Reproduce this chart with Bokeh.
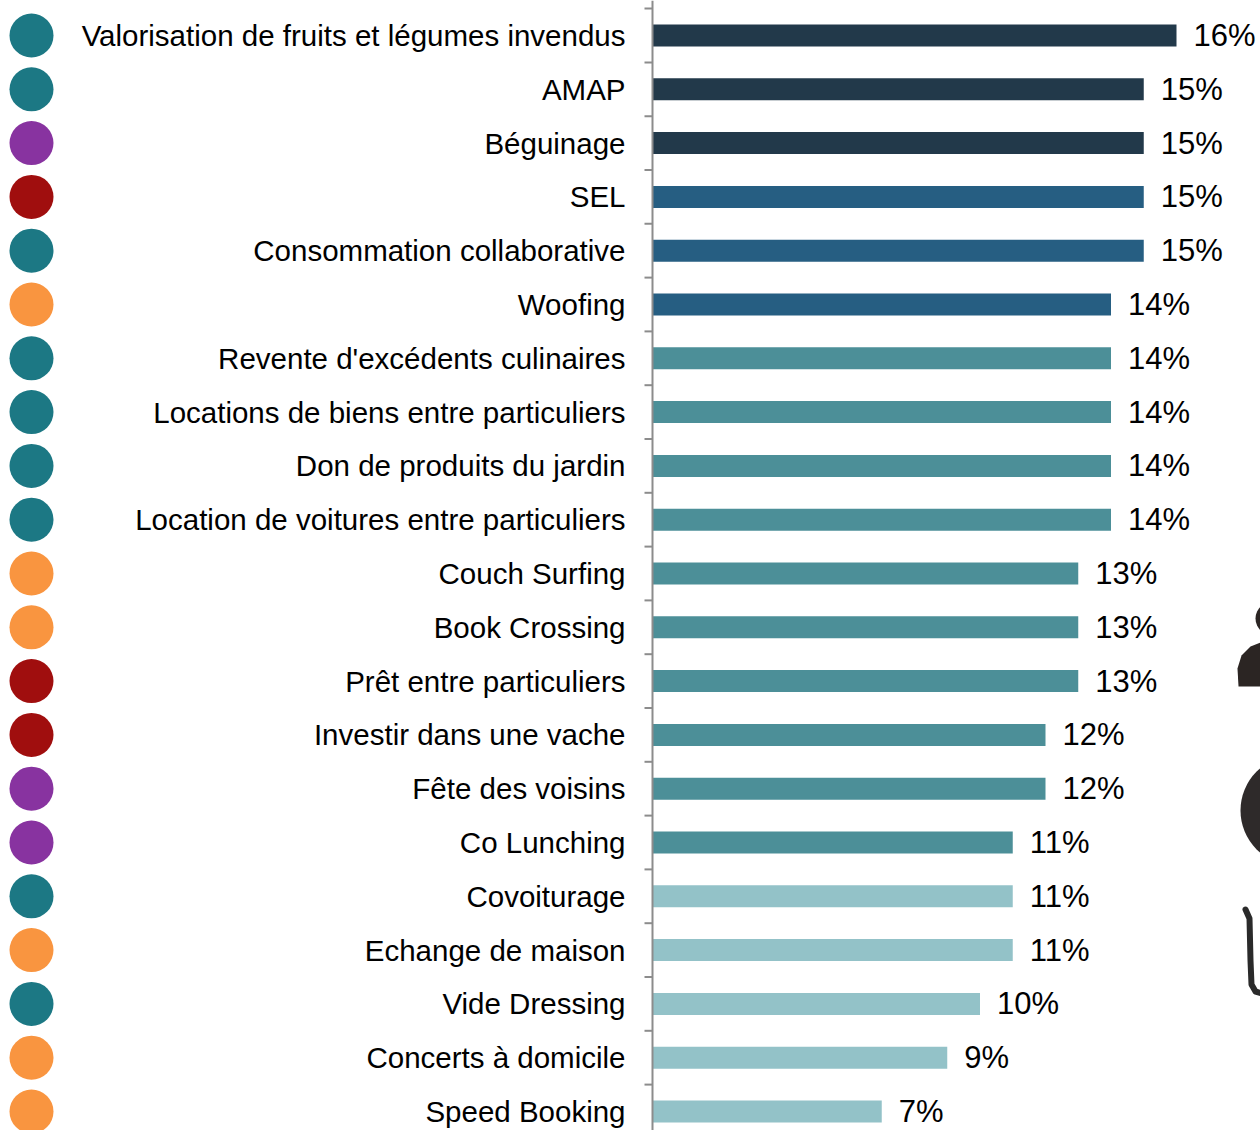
from bokeh.plotting import figure
from bokeh.models import Range1d, ColumnDataSource
from bokeh.embed import file_html
from bokeh.resources import INLINE
from bokeh.core.properties import value

# ---------------- data ----------------
categories = [
    "Valorisation de fruits et légumes invendus",
    "AMAP",
    "Béguinage",
    "SEL",
    "Consommation collaborative",
    "Woofing",
    "Revente d'excédents culinaires",
    "Locations de biens entre particuliers",
    "Don de produits du jardin",
    "Location de voitures entre particuliers",
    "Couch Surfing",
    "Book Crossing",
    "Prêt entre particuliers",
    "Investir dans une vache",
    "Fête des voisins",
    "Co Lunching",
    "Covoiturage",
    "Echange de maison",
    "Vide Dressing",
    "Concerts à domicile",
    "Speed Booking",
]
values = [16, 15, 15, 15, 15, 14, 14, 14, 14, 14, 13, 13, 13, 12, 12, 11, 11, 11, 10, 9, 7]
bar_tier = [1, 1, 1, 2, 2, 2, 3, 3, 3, 3, 3, 3, 3, 3, 3, 3, 4, 4, 4, 4, 4]
themes = ["env", "env", "social", "eco", "env", "loisir", "env", "env", "env", "env",
          "loisir", "loisir", "eco", "eco", "social", "social", "env", "loisir", "env",
          "loisir", "loisir"]

# ---------------- styles ----------------
tier_colors = {1: "#22394A", 2: "#265E82", 3: "#4C8F98", 4: "#93C2C8"}
theme_colors = {"env": "#1C7884", "social": "#8833A0", "eco": "#A00E0E", "loisir": "#F99540"}

W, H = 1260, 1130
PX_PER_UNIT = 32.75          # pixels per percent
AXIS_PX = 652                # axis position from left edge of frame
ROW_PX = 53.8                # pixels per category row
FIRST_ROW_PX = 35            # centre of first row from top of frame

def px_x(px):
    """horizontal pixel offset -> data units"""
    return px / PX_PER_UNIT

def at_x(px):
    """absolute pixel column -> data x"""
    return (px - AXIS_PX) / PX_PER_UNIT

def at_y(py):
    """absolute pixel row -> data y"""
    return (py - FIRST_ROW_PX) / ROW_PX

x0, x1 = at_x(0), at_x(W)
y_top, y_bot = at_y(0), at_y(H)

n = len(categories)
ys = list(range(n))
src = ColumnDataSource(dict(
    y=ys,
    cat=categories,
    v=values,
    pct=[f"{v}%" for v in values],
    vx=[v + px_x(17) for v in values],
    bar_color=[tier_colors[t] for t in bar_tier],
    dot_color=[theme_colors[t] for t in themes],
))

p = figure(width=W, height=H, x_range=Range1d(x0, x1), y_range=Range1d(y_bot, y_top),
           output_backend="svg", toolbar_location=None, min_border=0,
           outline_line_color=None)
p.axis.visible = False
p.grid.visible = False
p.background_fill_color = "white"

# bars
p.hbar(y="y", left=0, right="v", height=22 / ROW_PX, fill_color="bar_color",
       line_color=None, source=src)

# axis line + ticks at row boundaries
p.segment(x0=0, y0=y_top, x1=0, y1=y_bot, line_color="#8C8C8C", line_width=2)
bounds = [i - 0.5 for i in range(n + 1)]
p.segment(x0=[-px_x(8)] * len(bounds), y0=bounds, x1=[0] * len(bounds), y1=bounds,
          line_color="#8C8C8C", line_width=2)

# category labels
p.text(x=-px_x(27), y="y", text="cat", source=src, text_align="right",
       text_baseline="middle", text_font=value("Liberation Sans"),
       text_font_size="29.5px", text_color="#000000")

# value labels
p.text(x="vx", y="y", text="pct", source=src, text_align="left",
       text_baseline="middle", text_font=value("Liberation Sans"),
       text_font_size="31px", text_color="#000000")

# theme dots
p.scatter(x=at_x(31), y="y", size=44, marker="circle",
          fill_color="dot_color", line_color=None, source=src)

# partially visible pictograms at the right edge (decoration)
ink = "#2B2523"
p.ellipse(x=at_x(1276), y=at_y(618), width=px_x(42), height=36 / ROW_PX,
          fill_color=ink, line_color=None)
sh_px = [(1238, 686), (1237, 668), (1241, 655), (1250, 646), (1260, 642), (1262, 686)]
p.patch(x=[at_x(a) for a, b in sh_px], y=[at_y(b) for a, b in sh_px],
        fill_color=ink, line_color=None)
p.ellipse(x=at_x(1295), y=at_y(810), width=px_x(110), height=110 / ROW_PX,
          fill_color="#2E2A2A", line_color=None)
l_px = [(1245, 909), (1249, 918), (1250, 960), (1251, 984), (1255, 991), (1262, 993)]
p.line(x=[at_x(a) for a, b in l_px], y=[at_y(b) for a, b in l_px],
       line_color="#2A2A2A", line_width=6, line_cap="round", line_join="round")

open("out.html", "w").write(file_html(p, INLINE))
